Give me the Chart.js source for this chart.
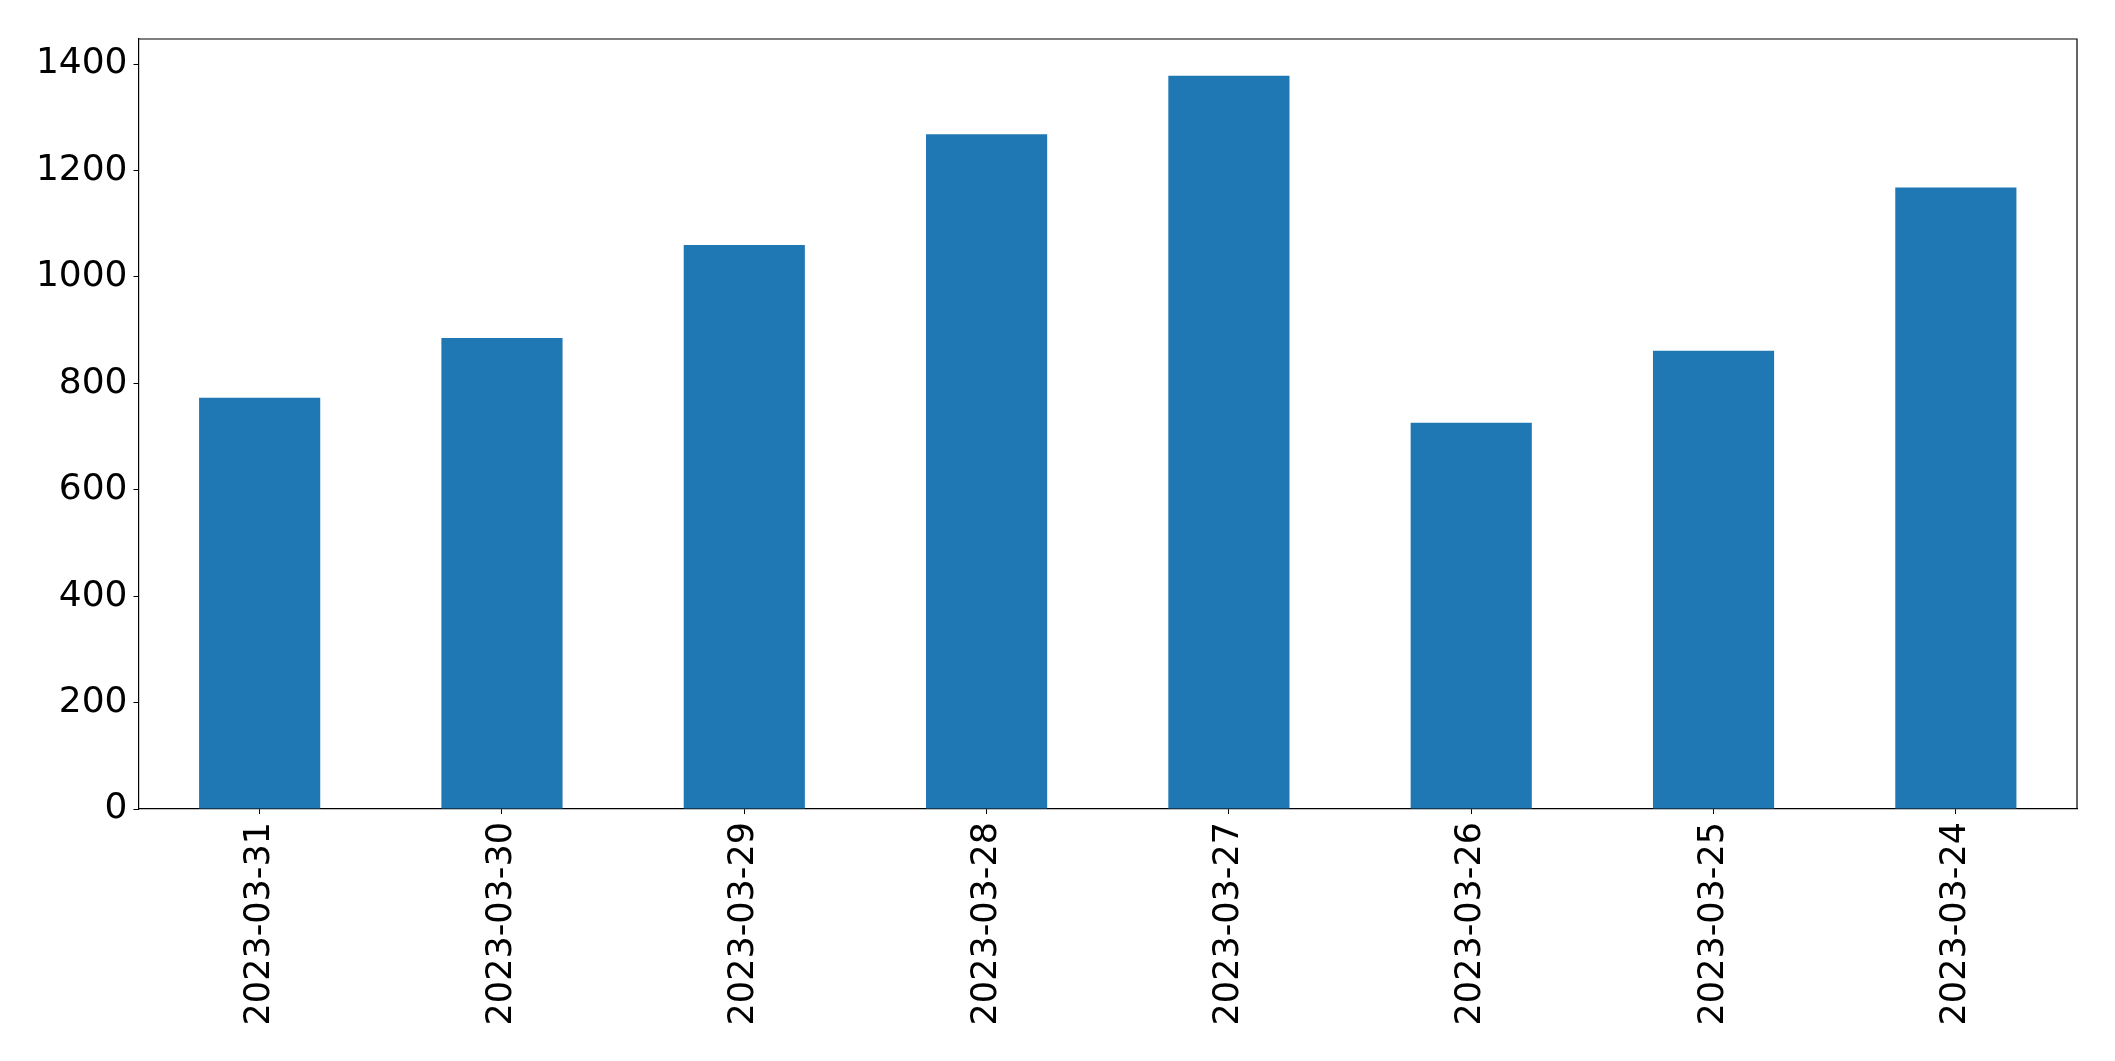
<!DOCTYPE html>
<html>
<head>
<meta charset="utf-8">
<script src="https://cdn.jsdelivr.net/npm/chart.js@4"></script>
<style>
  body { margin: 0; background: #fff; }
  canvas { display: block; }
</style>
</head>
<body>
<canvas id="barChart" width="2115" height="1061"></canvas>
<script>
const dates = ['2023-03-31', '2023-03-30', '2023-03-29', '2023-03-28', '2023-03-27', '2023-03-26', '2023-03-25', '2023-03-24'];
const counts = [773, 885, 1060, 1268, 1378, 726, 861, 1168];
const yTicks = [0, 200, 400, 600, 800, 1000, 1200, 1400];

// top and right spines
const frame = {
    id: 'frame',
    afterDraw(chart) {
        const { ctx, chartArea: a } = chart;
        ctx.save();
        ctx.strokeStyle = '#000';
        ctx.lineWidth = 1.2;
        ctx.beginPath();
        ctx.moveTo(a.left, a.top);
        ctx.lineTo(a.right, a.top);
        ctx.lineTo(a.right, a.bottom);
        ctx.stroke();
        ctx.restore();
    }
};

const tickFont = { family: 'DejaVu Sans', size: 36 };

new Chart(document.getElementById('barChart').getContext('2d'), {
    type: 'bar',
    data: {
        labels: dates,
        datasets: [{
            data: counts,
            backgroundColor: '#1f77b4',
            barPercentage: 0.5,
            categoryPercentage: 1.0
        }]
    },
    options: {
        responsive: false,
        animation: false,
        layout: { padding: { top: 39, right: 38, left: 0, bottom: 0 } },
        plugins: { legend: { display: false }, tooltip: { enabled: false } },
        scales: {
            x: {
                offset: true,
                grid: { display: true, offset: false, drawOnChartArea: false, tickLength: 5, color: '#000' },
                border: { display: true, color: '#000', width: 1.2 },
                ticks: { color: '#000', font: { family: 'DejaVu Sans', size: 35 }, minRotation: 90, maxRotation: 90, padding: 8, autoSkip: false },
                afterFit(scale) { scale.height = 252; }
            },
            y: {
                min: 0,
                max: 1447,
                grid: { display: true, drawOnChartArea: false, tickLength: 5, color: '#000' },
                border: { display: true, color: '#000', width: 1.2 },
                ticks: { color: '#000', font: tickFont, padding: 6, callback: v => String(v) },
                afterBuildTicks(scale) { scale.ticks = yTicks.map(v => ({ value: v })); },
                afterFit(scale) { scale.width = 138.5; }
            }
        }
    },
    plugins: [frame]
});
</script>
</body>
</html>
